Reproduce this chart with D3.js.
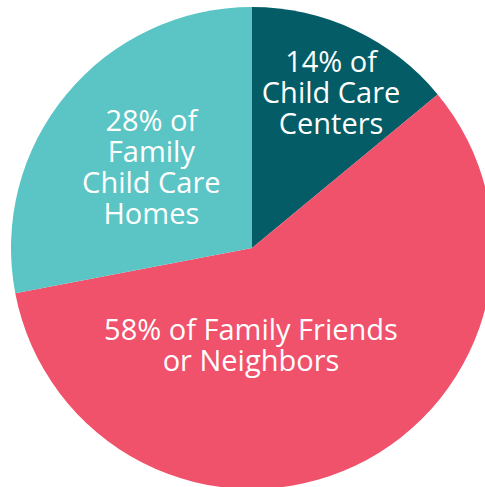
<!DOCTYPE html>
<html>
<head>
<meta charset="utf-8">
<script src="https://cdn.jsdelivr.net/npm/d3@7"></script>
<style>
  html, body { margin: 0; padding: 0; background: #fff; }
  svg { display: block; }
  text { font-family: "Open Sans", sans-serif; fill: #fff; }
</style>
</head>
<body>
<svg width="485" height="487"></svg>
<script>
var categories = ["Child Care Centers", "Family Friends or Neighbors", "Family Child Care Homes"];
var shares = [14, 58, 28];
var colors = ["#035c66", "#f0516b", "#5bc5c5"];
var labelLines = [
  ["14% of", "Child Care", "Centers"],
  ["58% of Family Friends", "or Neighbors"],
  ["28% of", "Family", "Child Care", "Homes"]
];

const cx = 252, cy = 248, radius = 241;
const fontSize = 29, lineHeight = 31;

const svg = d3.select('svg');
const chart = svg.append('g')
  .attr('transform', `translate(${cx}, ${cy})`);

const pie = d3.pie().sort(null).value((d) => d);
const arcs = pie(shares);

const arc = d3.arc().innerRadius(0).outerRadius(radius);

chart.selectAll('path')
  .data(arcs)
  .enter()
  .append('path')
  .attr('d', arc)
  .attr('fill', (d, i) => colors[i]);

// label centres, tuned by eye (radius along slice middle, then a nudge)
const labelRadius = [174, 108, 128];
const labelShift = [[5, 2], [-47, 0], [-2, 1]];

const labels = chart.selectAll('text')
  .data(arcs)
  .enter()
  .append('text')
  .attr('text-anchor', 'middle')
  .attr('font-size', fontSize)
  .attr('transform', (d, i) => {
    const r = labelRadius[i];
    const c = d3.arc().innerRadius(r).outerRadius(r).centroid(d);
    return `translate(${c[0] + labelShift[i][0]}, ${c[1] + labelShift[i][1]})`;
  });

labels.each(function(d, i) {
  const lines = labelLines[i];
  const t = d3.select(this);
  const y0 = -(lines.length - 1) * lineHeight / 2;
  lines.forEach((line, j) => {
    t.append('tspan')
      .attr('x', 0)
      .attr('y', y0 + j * lineHeight)
      .attr('dy', '0.35em')
      .text(line);
  });
});
</script>
</body>
</html>
